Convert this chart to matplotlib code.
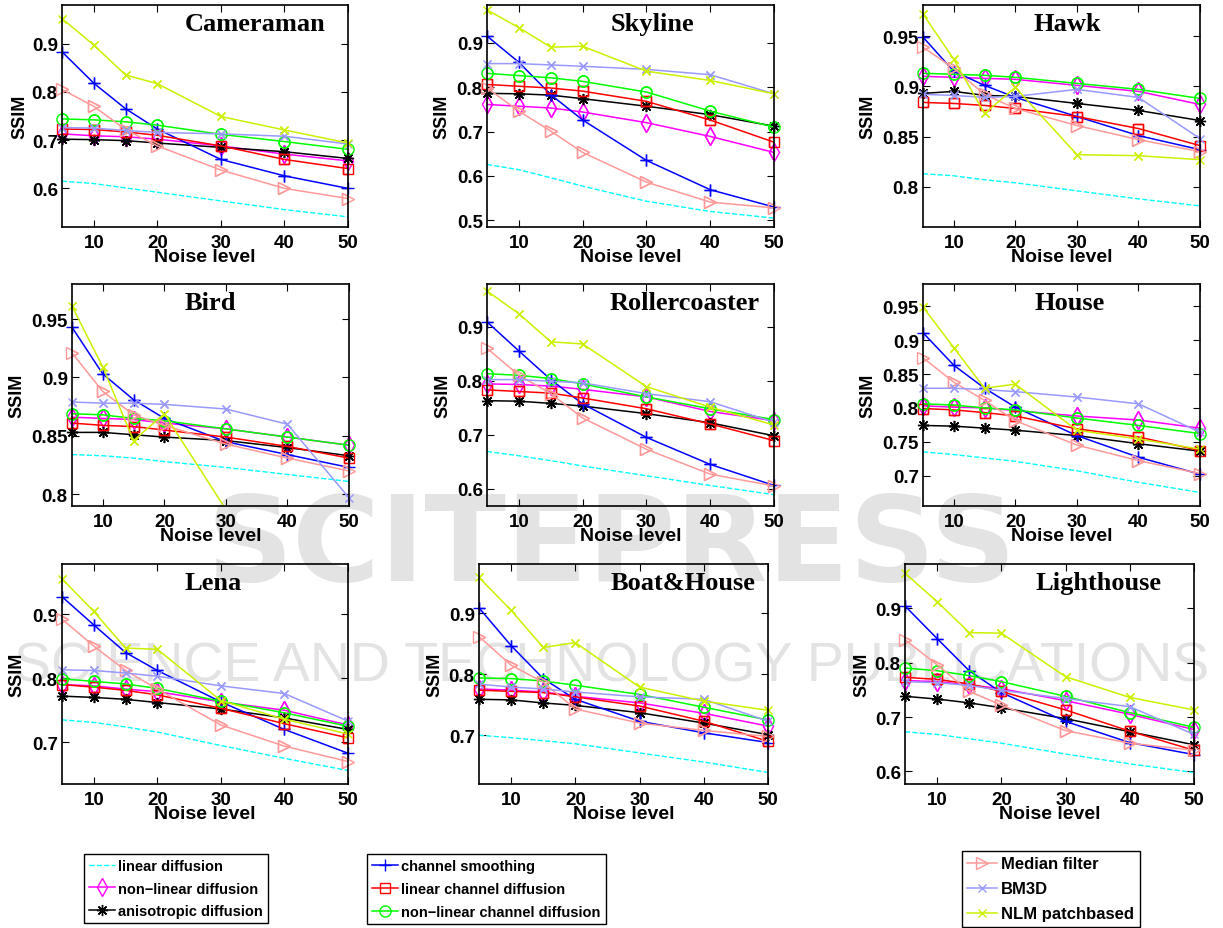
import numpy as np
import matplotlib
matplotlib.use('Agg')
import matplotlib.pyplot as plt
from matplotlib.ticker import FuncFormatter

noise = [5, 10, 15, 20, 30, 40, 50]

methods = ['linear diffusion', 'non\u2212linear diffusion', 'anisotropic diffusion',
           'channel smoothing', 'linear channel diffusion', 'non\u2212linear channel diffusion',
           'Median filter', 'BM3D', 'NLM patchbased']

# rows follow the order of methods
cameraman = [
    [0.615, 0.610, 0.601, 0.592, 0.574, 0.556, 0.541],
    [0.713, 0.709, 0.707, 0.702, 0.688, 0.671, 0.657],
    [0.702, 0.701, 0.699, 0.694, 0.685, 0.676, 0.662],
    [0.883, 0.818, 0.765, 0.723, 0.660, 0.626, 0.600],
    [0.723, 0.722, 0.717, 0.710, 0.688, 0.660, 0.641],
    [0.744, 0.742, 0.738, 0.731, 0.712, 0.697, 0.681],
    [0.805, 0.770, 0.722, 0.688, 0.638, 0.600, 0.579],
    [0.726, 0.725, 0.720, 0.716, 0.713, 0.708, 0.692],
    [0.952, 0.897, 0.835, 0.817, 0.749, 0.721, 0.694],
]
skyline = [
    [0.626, 0.614, 0.596, 0.577, 0.543, 0.520, 0.505],
    [0.761, 0.757, 0.753, 0.744, 0.720, 0.689, 0.653],
    [0.786, 0.785, 0.782, 0.774, 0.757, 0.738, 0.712],
    [0.915, 0.856, 0.783, 0.726, 0.635, 0.569, 0.530],
    [0.806, 0.802, 0.798, 0.791, 0.768, 0.726, 0.676],
    [0.831, 0.826, 0.821, 0.813, 0.789, 0.746, 0.710],
    [0.798, 0.746, 0.701, 0.653, 0.586, 0.541, 0.528],
    [0.853, 0.853, 0.850, 0.847, 0.840, 0.828, 0.785],
    [0.974, 0.934, 0.890, 0.892, 0.836, 0.815, 0.785],
]
hawk = [
    [0.813, 0.811, 0.807, 0.804, 0.796, 0.788, 0.781],
    [0.910, 0.909, 0.908, 0.907, 0.901, 0.895, 0.882],
    [0.893, 0.895, 0.891, 0.890, 0.883, 0.876, 0.866],
    [0.949, 0.915, 0.901, 0.889, 0.870, 0.851, 0.837],
    [0.884, 0.883, 0.881, 0.878, 0.870, 0.858, 0.841],
    [0.913, 0.912, 0.911, 0.909, 0.903, 0.897, 0.888],
    [0.939, 0.918, 0.892, 0.878, 0.861, 0.847, 0.835],
    [0.892, 0.891, 0.889, 0.890, 0.897, 0.889, 0.848],
    [0.972, 0.927, 0.873, 0.899, 0.832, 0.831, 0.827],
]
bird = [
    [0.834, 0.833, 0.831, 0.828, 0.823, 0.817, 0.811],
    [0.866, 0.865, 0.864, 0.861, 0.856, 0.849, 0.842],
    [0.853, 0.853, 0.851, 0.849, 0.846, 0.840, 0.833],
    [0.943, 0.903, 0.881, 0.865, 0.845, 0.834, 0.823],
    [0.861, 0.859, 0.858, 0.855, 0.849, 0.841, 0.831],
    [0.869, 0.868, 0.865, 0.863, 0.856, 0.849, 0.842],
    [0.921, 0.888, 0.868, 0.859, 0.843, 0.831, 0.820],
    [0.879, 0.878, 0.878, 0.877, 0.873, 0.860, 0.797],
    [0.961, 0.909, 0.846, 0.869, 0.787, 0.775, 0.765],
]
rollercoaster = [
    [0.669, 0.661, 0.652, 0.642, 0.624, 0.606, 0.589],
    [0.794, 0.793, 0.790, 0.784, 0.770, 0.743, 0.726],
    [0.763, 0.762, 0.758, 0.753, 0.739, 0.722, 0.698],
    [0.909, 0.855, 0.802, 0.757, 0.695, 0.645, 0.606],
    [0.783, 0.780, 0.777, 0.768, 0.748, 0.720, 0.689],
    [0.813, 0.810, 0.804, 0.794, 0.770, 0.748, 0.728],
    [0.860, 0.810, 0.776, 0.731, 0.673, 0.627, 0.605],
    [0.802, 0.802, 0.799, 0.796, 0.776, 0.761, 0.723],
    [0.966, 0.924, 0.872, 0.868, 0.789, 0.751, 0.718],
]
house = [
    [0.735, 0.731, 0.726, 0.721, 0.707, 0.690, 0.675],
    [0.803, 0.801, 0.800, 0.796, 0.788, 0.782, 0.770],
    [0.774, 0.773, 0.770, 0.767, 0.759, 0.747, 0.736],
    [0.911, 0.863, 0.829, 0.801, 0.759, 0.727, 0.702],
    [0.799, 0.797, 0.793, 0.788, 0.769, 0.757, 0.737],
    [0.806, 0.804, 0.800, 0.797, 0.785, 0.774, 0.762],
    [0.874, 0.838, 0.811, 0.781, 0.745, 0.722, 0.703],
    [0.829, 0.829, 0.827, 0.824, 0.816, 0.806, 0.764],
    [0.949, 0.889, 0.829, 0.835, 0.767, 0.754, 0.739],
]
lena = [
    [0.735, 0.731, 0.724, 0.716, 0.695, 0.675, 0.656],
    [0.790, 0.788, 0.783, 0.779, 0.763, 0.750, 0.727],
    [0.772, 0.770, 0.767, 0.762, 0.752, 0.738, 0.720],
    [0.927, 0.883, 0.840, 0.812, 0.763, 0.720, 0.683],
    [0.790, 0.786, 0.781, 0.774, 0.753, 0.729, 0.707],
    [0.799, 0.795, 0.791, 0.784, 0.764, 0.746, 0.725],
    [0.892, 0.850, 0.812, 0.783, 0.727, 0.694, 0.670],
    [0.813, 0.812, 0.808, 0.803, 0.788, 0.776, 0.733],
    [0.955, 0.904, 0.847, 0.845, 0.765, 0.736, 0.713],
]
boathouse = [
    [0.700, 0.696, 0.691, 0.686, 0.671, 0.656, 0.639],
    [0.776, 0.774, 0.771, 0.764, 0.753, 0.736, 0.715],
    [0.759, 0.758, 0.753, 0.749, 0.737, 0.720, 0.701],
    [0.909, 0.847, 0.793, 0.759, 0.723, 0.704, 0.688],
    [0.774, 0.772, 0.770, 0.763, 0.748, 0.723, 0.690],
    [0.794, 0.793, 0.789, 0.782, 0.767, 0.746, 0.725],
    [0.862, 0.815, 0.787, 0.743, 0.720, 0.708, 0.698],
    [0.784, 0.779, 0.776, 0.771, 0.763, 0.759, 0.723],
    [0.959, 0.905, 0.844, 0.852, 0.779, 0.756, 0.741],
]
lighthouse = [
    [0.673, 0.668, 0.660, 0.652, 0.632, 0.614, 0.598],
    [0.767, 0.765, 0.759, 0.752, 0.730, 0.705, 0.677],
    [0.738, 0.733, 0.726, 0.717, 0.697, 0.673, 0.649],
    [0.904, 0.844, 0.785, 0.745, 0.692, 0.653, 0.631],
    [0.773, 0.769, 0.761, 0.747, 0.713, 0.674, 0.639],
    [0.790, 0.785, 0.776, 0.765, 0.738, 0.708, 0.681],
    [0.842, 0.796, 0.747, 0.722, 0.675, 0.652, 0.639],
    [0.765, 0.763, 0.758, 0.749, 0.734, 0.719, 0.668],
    [0.964, 0.912, 0.855, 0.854, 0.774, 0.736, 0.713],
]

titles = ['Cameraman', 'Skyline', 'Hawk', 'Bird', 'Rollercoaster', 'House',
          'Lena', 'Boat&House', 'Lighthouse']
datasets = [cameraman, skyline, hawk, bird, rollercoaster, house, lena, boathouse, lighthouse]

# styling
colors = ['#00ffff', '#ff00ff', '#000000', '#0000ff', '#ff0000', '#00ff00',
          '#ff9999', '#9999ff', '#ccf000']
markers = [None, 'd', (8, 2, 0), '+', 's', 'o', '>', 'x', 'x']
msizes = [0, 9, 8, 9, 6.5, 8, 8.5, 6, 6]

W, H = 1223, 929
# left, top, right, bottom in pixels
boxes = [(62, 6, 348, 228), (487, 6, 774, 228), (923, 6, 1200, 228),
         (72, 285, 349, 507), (487, 285, 774, 507), (923, 285, 1200, 507),
         (62, 565, 348, 785), (479, 565, 768, 785), (905, 565, 1194, 785)]
ylims = [(0.52, 0.98), (0.485, 0.985), (0.76, 0.981),
         (0.79, 0.98), (0.568, 0.979), (0.655, 0.983),
         (0.635, 0.978), (0.62, 0.981), (0.577, 0.981)]
yticks = [[0.6, 0.7, 0.8, 0.9], [0.5, 0.6, 0.7, 0.8, 0.9], [0.8, 0.85, 0.9, 0.95],
          [0.8, 0.85, 0.9, 0.95], [0.6, 0.7, 0.8, 0.9], [0.7, 0.75, 0.8, 0.85, 0.9, 0.95],
          [0.7, 0.8, 0.9], [0.7, 0.8, 0.9], [0.6, 0.7, 0.8, 0.9]]
title_x = [0.675, 0.575, 0.52, 0.5, 0.69, 0.53, 0.53, 0.705, 0.67]
ylabel_x = [-0.147, -0.157, -0.2, -0.2, -0.153, -0.2, -0.157, -0.152, -0.149]

sans = ['Liberation Sans', 'DejaVu Sans']
serif = ['Liberation Serif', 'DejaVu Serif']

fig = plt.figure(figsize=(W / 100, H / 100), dpi=100)

# publisher watermark behind everything
fig.text(0.5, 0.41, 'SCITEPRESS', ha='center', va='center', fontsize=86,
         fontweight='bold', family=['DejaVu Sans'], color='#dcdcdc', alpha=0.8, zorder=-5)
fig.text(0.5, 0.281, 'SCIENCE AND TECHNOLOGY PUBLICATIONS', ha='center', va='center',
         fontsize=40, family=sans, color='#dcdcdc', alpha=0.8, zorder=-5)

handles = []
for k, (title, data) in enumerate(zip(titles, datasets)):
    l, t, r, b = boxes[k]
    ax = fig.add_axes([l / W, 1 - b / H, (r - l) / W, (b - t) / H])
    ax.patch.set_alpha(0)
    lo, hi = ylims[k]
    for i, vals in enumerate(data):
        vals = np.array(vals)
        if markers[i] is None:
            h, = ax.plot(noise, vals, '--', color=colors[i], lw=1.0)
        else:
            h, = ax.plot(noise, vals, '-', color=colors[i], lw=1.1,
                         marker=markers[i], ms=msizes[i], mfc='none', mew=1.0)
            # markers on the frame are not cut off, as in the original
            keep = (vals >= lo) & (vals <= hi)
            ax.plot(np.array(noise)[keep], vals[keep], ls='none', color=colors[i],
                    marker=markers[i], ms=msizes[i], mfc='none', mew=1.0,
                    clip_on=False)
        if k == 0:
            handles.append(h)
    ax.set_xlim(5, 50)
    ax.set_ylim(lo, hi)
    ax.set_xticks([10, 20, 30, 40, 50])
    ax.set_yticks(yticks[k])
    ax.yaxis.set_major_formatter(FuncFormatter(lambda v, p: '%g' % round(v, 2)))
    ax.tick_params(direction='in', length=5, width=0.8, top=True, right=True,
                   labelsize=13.5)
    ax.tick_params(axis='x', pad=5)
    ax.tick_params(axis='y', pad=3)
    for lab in ax.get_xticklabels() + ax.get_yticklabels():
        lab.set_fontweight('bold')
        lab.set_family(sans)
    for s in ax.spines.values():
        s.set_linewidth(1.2)
    ax.set_ylabel('SSIM', fontsize=13, fontweight='bold', family=sans)
    ax.yaxis.set_label_coords(ylabel_x[k], 0.5)
    ax.yaxis.label.set_va('center')
    ax.set_xlabel('Noise level', fontsize=14, fontweight='bold', family=sans)
    ax.xaxis.set_label_coords(0.5, -0.135)
    ax.xaxis.label.set_va('center')
    ax.text(title_x[k], 0.915, title, transform=ax.transAxes, ha='center', va='center',
            fontsize=19, fontweight='bold', family=serif)

centers = [(0.1439, 0.0425), (0.3978, 0.042), (0.859, 0.042)]
leg_sizes = [10.5, 10.5, 12]
for j in range(3):
    leg = fig.legend(handles[3 * j:3 * j + 3], methods[3 * j:3 * j + 3],
                     loc='center', bbox_to_anchor=centers[j], handlelength=1.8,
                     handletextpad=0.2, borderpad=0.35, labelspacing=0.6,
                     fancybox=False, framealpha=1, edgecolor='black',
                     prop={'family': sans, 'weight': 'bold', 'size': leg_sizes[j]})
    leg.get_frame().set_linewidth(1.0)

fig.savefig('out.png', dpi=100)
